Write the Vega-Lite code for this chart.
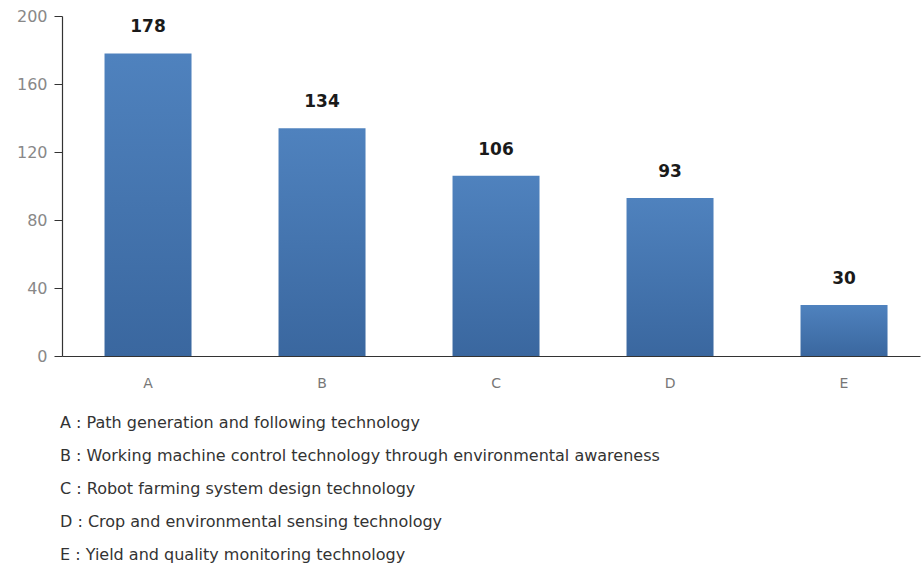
{
  "$schema": "https://vega.github.io/schema/vega-lite/v6.json",
  "autosize": "none",
  "width": 858,
  "height": 340,
  "padding": {"left": 62, "top": 16, "right": 4, "bottom": 210},
  "background": "white",
  "data": {"values": [
    {"cat": "A", "value": 178},
    {"cat": "B", "value": 134},
    {"cat": "C", "value": 106},
    {"cat": "D", "value": 93},
    {"cat": "E", "value": 30}
  ]},
  "title": {
    "text": [
      "A : Path generation  and  following technology",
      "B : Working machine control technology through environmental awareness",
      "C : Robot farming system design technology",
      "D : Crop and environmental sensing technology",
      "E : Yield and quality monitoring technology"
    ],
    "orient": "bottom",
    "anchor": "start",
    "frame": "group",
    "font": "DejaVu Sans",
    "fontSize": 16,
    "fontWeight": "normal",
    "color": "#333333",
    "lineHeight": 33,
    "offset": 25,
    "dx": -2
  },
  "encoding": {
    "x": {
      "field": "cat", "type": "nominal", "sort": null,
      "scale": {"paddingInner": 0.5, "paddingOuter": 0.2155, "align": 0.567},
      "axis": {"title": null, "labelAngle": 0, "ticks": false, "labelPadding": 20,
        "labelFont": "DejaVu Sans", "labelFontSize": 14, "labelColor": "#777777",
        "domainColor": "#333333", "domainWidth": 1.2}
    },
    "y": {
      "field": "value", "type": "quantitative",
      "scale": {"domain": [0, 200]},
      "axis": {"title": null, "values": [0, 40, 80, 120, 160, 200], "grid": false,
        "tickSize": 8, "tickColor": "#333333", "labelPadding": 7,
        "labelFont": "DejaVu Sans", "labelFontSize": 16, "labelColor": "#888888",
        "domainColor": "#333333", "domainWidth": 1.2}
    }
  },
  "layer": [
    {
      "mark": {"type": "bar",
        "color": {"gradient": "linear", "x1": 0, "y1": 0, "x2": 0, "y2": 1,
          "stops": [{"offset": 0, "color": "#4f82be"}, {"offset": 1, "color": "#3a679f"}]}}
    },
    {
      "mark": {"type": "text", "baseline": "bottom", "dy": -17,
        "font": "DejaVu Sans", "fontSize": 17, "fontWeight": "bold", "color": "#1a1a1a"},
      "encoding": {"text": {"field": "value", "type": "quantitative"}}
    }
  ],
  "config": {"view": {"stroke": null}}
}
